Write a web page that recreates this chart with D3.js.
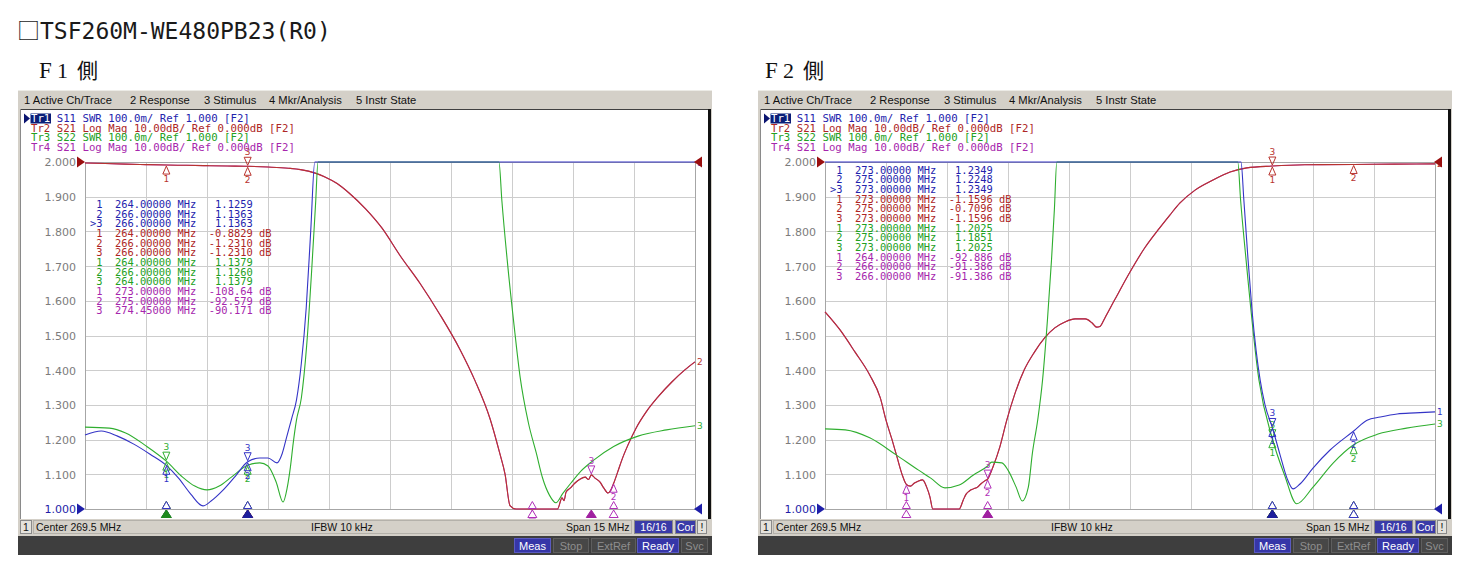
<!DOCTYPE html>
<html><head><meta charset="utf-8">
<script src="https://cdn.jsdelivr.net/npm/d3@7/dist/d3.min.js"></script>
<style>
html,body{margin:0;padding:0;background:#fff;}
svg{display:block;}
text{white-space:pre;}
</style></head>
<body>
<svg id="chart" width="1474" height="580"></svg>
<script>
// ================= DATA =================
const titleBox = "□";
const titleText = "TSF260M-WE480PB23(R0)";
const sideChar = "側";
const panelNames = ["F1", "F2"];
const menuItems = ["1 Active Ch/Trace", "2 Response", "3 Stimulus", "4 Mkr/Analysis", "5 Instr State"];
const legendRows = [
  "Tr1 S11 SWR 100.0m/ Ref 1.000 [F2]",
  "Tr2 S21 Log Mag 10.00dB/ Ref 0.000dB [F2]",
  "Tr3 S22 SWR 100.0m/ Ref 1.000 [F2]",
  "Tr4 S21 Log Mag 10.00dB/ Ref 0.000dB [F2]"
];
const swrTicks = [2.0, 1.9, 1.8, 1.7, 1.6, 1.5, 1.4, 1.3, 1.2, 1.1, 1.0];
const freqDomain = [262, 277];   // MHz (Center 269.5, Span 15)
const freqDiv = 1.5;             // MHz per division
const swrDomain = [1, 2];
const dbDomain = [-100, 0];
const statusTexts = ["1", "Center 269.5 MHz", "IFBW 10 kHz", "Span 15 MHz", "16/16", "Cor", "!"];
const buttonTexts = ["Meas", "Stop", "ExtRef", "Ready", "Svc"];

// ---- F1 side ----
const f1S11Freq = [262.0, 262.4, 262.8, 263.2, 263.6, 264.0, 264.3, 264.6, 264.9, 265.1, 265.4, 265.7, 266.0, 266.3, 266.5, 266.72, 266.85, 266.96, 267.08, 267.2, 267.32, 267.44, 267.55, 267.65, 269.0, 271.0, 273.0, 275.0, 277.0];
const f1S11Swr  = [1.213, 1.225, 1.210, 1.187, 1.158, 1.1259, 1.089, 1.043, 1.009, 1.023, 1.055, 1.095, 1.1363, 1.147, 1.147, 1.133, 1.160, 1.208, 1.260, 1.314, 1.420, 1.580, 1.800, 2.000, 2.000, 2.000, 2.000, 2.000, 2.000];

const f1S22Freq = [262.0, 262.6, 263.0, 263.5, 264.0, 264.4, 264.7, 265.0, 265.3, 265.6, 266.0, 266.3, 266.5, 266.7, 266.87, 266.97, 267.05, 267.12, 267.2, 267.32, 267.45, 267.57, 267.67, 267.73, 270.0, 272.18, 272.25, 272.38, 272.55, 272.7, 272.9, 273.1, 273.25, 273.42, 273.58, 273.75, 273.95, 274.2, 274.5, 275.0, 275.6, 276.3, 277.0];
const f1S22Swr  = [1.236, 1.233, 1.219, 1.182, 1.1379, 1.092, 1.066, 1.055, 1.066, 1.092, 1.126, 1.133, 1.124, 1.078, 1.020, 1.060, 1.120, 1.190, 1.256, 1.320, 1.470, 1.680, 1.880, 2.000, 2.000, 2.000, 1.890, 1.720, 1.530, 1.380, 1.250, 1.160, 1.090, 1.040, 1.018, 1.045, 1.075, 1.110, 1.140, 1.180, 1.210, 1.228, 1.240];

const f1S21Freq = [262.0, 262.5, 263.0, 263.5, 264.0, 264.5, 265.0, 265.5, 266.0, 266.5, 267.0, 267.3, 267.66, 267.9, 268.2, 268.5, 268.9, 269.3, 269.75, 270.24, 270.73, 271.22, 271.59, 271.96, 272.2, 272.33, 272.45, 272.6, 273.0, 273.3, 273.62, 273.73, 273.78, 273.83, 273.93, 274.05, 274.17, 274.3, 274.38, 274.45, 274.54, 274.66, 274.76, 274.86, 274.93, 275.0, 275.1, 275.2, 275.35, 275.55, 275.8, 276.09, 276.43, 276.75, 277.0];
const f1S21Db   = [-0.30, -0.45, -0.60, -0.75, -0.8829, -0.95, -1.05, -1.15, -1.2310, -1.45, -1.80, -2.20, -3.20, -4.30, -6.20, -9.0, -13.5, -19.0, -27.0, -35.0, -44.0, -54.0, -63.0, -74.0, -84.0, -90.0, -99.0, -105.0, -108.64, -110.0, -104.0, -96.8, -97.6, -95.1, -94.0, -92.5, -91.4, -90.8, -91.5, -90.171, -91.1, -92.2, -94.0, -95.4, -94.5, -92.579, -89.3, -85.9, -81.6, -76.7, -72.0, -67.7, -63.4, -59.9, -57.6];

// markers [freq MHz, value]
const mkF1S11 = [[264, 1.1259], [266, 1.1363], [266, 1.1363]];
const mkF1S21 = [[264, -0.8829], [266, -1.2310], [266, -1.2310]];
const mkF1S22 = [[264, 1.1379], [266, 1.1260], [264, 1.1379]];
const mkF1Tr4 = [[273, -108.64], [275, -92.579], [274.45, -90.171]];

// ---- F2 side ----
const f2S11Freq = [262.0, 264.0, 266.0, 268.0, 270.0, 272.23, 272.3, 272.4, 272.5, 272.6, 272.7, 272.82, 273.0, 273.19, 273.36, 273.51, 273.68, 274.0, 274.42, 275.0, 275.33, 275.65, 276.07, 276.51, 277.0];
const f2S11Swr  = [2.000, 2.000, 2.000, 2.000, 2.000, 2.000, 1.890, 1.723, 1.573, 1.458, 1.372, 1.300, 1.2349, 1.156, 1.089, 1.058, 1.072, 1.118, 1.170, 1.2248, 1.256, 1.265, 1.274, 1.277, 1.280];

const f2S22Freq = [262.0, 262.5, 263.1, 263.75, 264.3, 264.6, 264.95, 265.3, 265.65, 266.0, 266.1, 266.35, 266.5, 266.7, 266.85, 267.0, 267.1, 267.23, 267.35, 267.47, 267.57, 267.64, 267.7, 270.0, 272.15, 272.22, 272.35, 272.67, 273.0, 273.3, 273.6, 274.0, 274.5, 275.0, 275.6, 276.3, 277.0];
const f2S22Swr  = [1.231, 1.228, 1.205, 1.156, 1.112, 1.089, 1.061, 1.069, 1.098, 1.124, 1.135, 1.133, 1.112, 1.063, 1.023, 1.063, 1.161, 1.256, 1.372, 1.545, 1.718, 1.862, 2.000, 2.000, 2.000, 1.890, 1.723, 1.372, 1.2025, 1.098, 1.015, 1.063, 1.133, 1.1851, 1.216, 1.233, 1.245];

const f2S21Freq = [262.0, 262.37, 262.74, 263.1, 263.36, 263.5, 263.65, 263.77, 263.9, 264.0, 264.1, 264.2, 264.3, 264.4, 264.5, 264.58, 264.65, 264.8, 265.0, 265.2, 265.3, 265.4, 265.47, 265.55, 265.65, 265.75, 265.83, 265.93, 266.0, 266.13, 266.3, 266.47, 266.66, 266.9, 267.15, 267.4, 267.65, 267.9, 268.15, 268.4, 268.57, 268.68, 268.76, 268.88, 269.12, 269.5, 269.86, 270.23, 270.48, 270.73, 271.1, 271.54, 271.96, 272.37, 273.0, 273.8, 275.0, 276.0, 277.0];
const f2S21Db   = [-43.2, -48.4, -54.8, -61.4, -68.0, -74.4, -80.1, -85.0, -90.2, -92.886, -93.4, -92.5, -91.9, -91.6, -93.7, -96.5, -101.0, -108.0, -110.0, -109.0, -103.0, -97.4, -95.7, -94.8, -94.2, -93.7, -92.8, -91.9, -91.386, -87.9, -82.1, -74.4, -67.1, -59.9, -54.8, -50.7, -47.8, -46.1, -45.2, -45.2, -46.4, -47.6, -47.4, -45.0, -39.8, -31.7, -24.8, -19.0, -15.3, -11.8, -8.1, -5.2, -2.9, -1.7, -1.1596, -0.80, -0.7096, -0.60, -0.55];

const mkF2S11 = [[273, 1.2349], [275, 1.2248], [273, 1.2349]];
const mkF2S21 = [[273, -1.1596], [275, -0.7096], [273, -1.1596]];
const mkF2S22 = [[273, 1.2025], [275, 1.1851], [273, 1.2025]];
const mkF2Tr4 = [[264, -92.886], [266, -91.386], [266, -91.386]];

// ================= STYLE / LAYOUT =================
const COL = {blue: "#3434c6", red: "#b8332e", green: "#2fae2f", mag: "#b030b8"};
const TXT = {blue: "#2323ad", red: "#ae2626", green: "#22a022", mag: "#a626ad"};
const DARK = {blue: "#1e1e9c", red: "#961c1c", green: "#1d8a1d", mag: "#a020a0"};
const MONO = "DejaVu Sans Mono";
const SANS = "Liberation Sans";

const svg = d3.select("#chart");

// main title
const tt = svg.append("text").attr("y", 39).attr("fill", "#1a1a1a");
tt.append("tspan").attr("x", 17).attr("font-family", "Noto Sans CJK JP").attr("font-size", 23).text(titleBox);
tt.append("tspan").attr("x", 40).attr("font-family", MONO).attr("font-size", 23).text(titleText);

function fmtVal(v) {
  const a = Math.abs(v);
  const d = a < 1 ? 1 : Math.floor(Math.log10(a)) + 1;
  return v.toFixed(5 - d);
}
function tri(xc, yTip, dir, w, h) {
  return `M${xc},${yTip}L${xc - w / 2},${yTip + dir * h}L${xc + w / 2},${yTip + dir * h}Z`;
}

function drawPanel(ox, name, nameX, readY, s11, s21, s22, mk11, mk21, mk22, mk4) {
  const g = svg.append("g");
  const L = 85 + ox, R = 695 + ox, T = 162, B = 509;
  const x = d3.scaleLinear().domain(freqDomain).range([L, R]);
  const ySwr = d3.scaleLinear().domain(swrDomain).range([B, T]).clamp(true);
  const yDb = d3.scaleLinear().domain(dbDomain).range([B, T]).clamp(true);

  // panel heading  (F1 側)
  const ht = g.append("text").attr("y", 78).attr("fill", "#111");
  ht.append("tspan").attr("x", nameX).attr("font-family", "Liberation Serif").attr("font-size", 23).text(name[0]);
  ht.append("tspan").attr("x", nameX + 18).attr("font-family", "Liberation Serif").attr("font-size", 22).text(name[1]);
  ht.append("tspan").attr("x", nameX + 38).attr("font-family", "Noto Sans CJK JP").attr("font-size", 21).text(sideChar);

  // frame
  g.append("rect").attr("x", 18 + ox).attr("y", 90).attr("width", 694).attr("height", 465).attr("fill", "#d4d0c8");
  g.append("line").attr("x1", 18 + ox).attr("x2", 712 + ox).attr("y1", 90.5).attr("y2", 90.5).attr("stroke", "#ecebe6");
  // menu
  const menuX = [24, 130, 204, 269, 356];
  menuItems.forEach((t, i) => {
    g.append("text").attr("x", menuX[i] + ox).attr("y", 103.5).attr("font-family", SANS)
      .attr("font-size", 11.2).attr("fill", "#111").text(t);
  });
  // chart window
  g.append("rect").attr("x", 20 + ox).attr("y", 109).attr("width", 689).attr("height", 410).attr("fill", "#fff");
  g.append("line").attr("x1", 20 + ox).attr("x2", 711 + ox).attr("y1", 109.5).attr("y2", 109.5).attr("stroke", "#404040");
  g.append("line").attr("x1", 20.5 + ox).attr("x2", 20.5 + ox).attr("y1", 109).attr("y2", 519).attr("stroke", "#8a8a8a");
  g.append("rect").attr("x", 708 + ox).attr("y", 109).attr("width", 3).attr("height", 410).attr("fill", "#111");

  // grid
  const xGrid = d3.range(freqDomain[0], freqDomain[1] + 0.001, freqDiv);
  g.append("g").selectAll("line").data(xGrid).join("line")
    .attr("x1", d => Math.round(x(d)) + 0.5).attr("x2", d => Math.round(x(d)) + 0.5)
    .attr("y1", T).attr("y2", B).attr("stroke", "#cdcdcd");
  g.append("g").selectAll("line").data(swrTicks).join("line")
    .attr("y1", d => Math.round(ySwr(d)) + 0.5).attr("y2", d => Math.round(ySwr(d)) + 0.5)
    .attr("x1", L).attr("x2", R).attr("stroke", "#cdcdcd");
  g.append("rect").attr("x", L + 0.5).attr("y", T + 0.5).attr("width", R - L).attr("height", B - T)
    .attr("fill", "none").attr("stroke", "#a6a6a6");

  // y axis labels
  const ax = d3.axisLeft(ySwr).tickValues(swrTicks).tickSize(0).tickPadding(0).tickFormat(d3.format(".3f"));
  const axg = g.append("g").attr("transform", `translate(${76 + ox},0)`).call(ax);
  axg.select(".domain").remove();
  axg.attr("font-family", "DejaVu Sans").attr("font-size", 11);
  axg.selectAll("text").attr("fill", d => d === 1 ? "#1e1ea8" : "#7c7c7c").attr("dy", "0.36em");

  // traces
  const traces = [
    {num: 4, f: s21[0], v: s21[1], y: yDb, c: "mag", mk: mk4, unit: "dB", label: false, active: false},
    {num: 2, f: s21[0], v: s21[1], y: yDb, c: "red", mk: mk21, unit: "dB", label: true, active: false},
    {num: 3, f: s22[0], v: s22[1], y: ySwr, c: "green", mk: mk22, unit: "", label: true, active: false},
    {num: 1, f: s11[0], v: s11[1], y: ySwr, c: "blue", mk: mk11, unit: "", label: true, active: true}
  ];
  traces.forEach(tr => {
    const line = d3.line().x(d => x(d[0])).y(d => tr.y(d[1])).curve(d3.curveMonotoneX);
    g.append("path").datum(d3.zip(tr.f, tr.v)).attr("d", line)
      .attr("fill", "none").attr("stroke", COL[tr.c]).attr("stroke-width", 1.1);
  });

  // trace end labels
  traces.filter(t => t.label).forEach(tr => {
    const last = tr.v[tr.v.length - 1];
    g.append("text").attr("x", R + 2).attr("y", tr.y(last) + 3.5).attr("font-family", "DejaVu Sans")
      .attr("font-size", 9).attr("fill", COL[tr.c]).text(tr.num);
  });

  // reference arrows
  g.append("path").attr("d", `M${L},${T}L${L - 8},${T - 5.5}L${L - 8},${T + 5.5}Z`).attr("fill", "#9a0f0f");
  g.append("path").attr("d", `M${L},${B}L${L - 8},${B - 5.5}L${L - 8},${B + 5.5}Z`).attr("fill", "#1e1ea8");
  g.append("path").attr("d", `M${R - 1},${T}L${R + 7},${T - 5.5}L${R + 7},${T + 5.5}Z`).attr("fill", "#9a0f0f");
  g.append("path").attr("d", `M${R - 1},${B}L${R + 7},${B - 5.5}L${R + 7},${B + 5.5}Z`).attr("fill", "#1e1ea8");

  // marker readout table
  const readOrder = [traces[3], traces[1], traces[2], traces[0]];
  let row = 0;
  readOrder.forEach(tr => {
    tr.mk.forEach((m, i) => {
      const n = i + 1;
      const s = (n === 3 && tr.active ? ">" : " ") + n + "  " + m[0].toFixed(5) + " MHz  " + (m[1] < 0 ? "" : " ") +
        fmtVal(m[1]) + (tr.unit ? " " + tr.unit : "");
      g.append("text").attr("xml:space", "preserve").attr("x", 90 + ox).attr("y", readY + row * 9.67)
        .attr("font-family", MONO).attr("font-size", 10.4).attr("fill", TXT[tr.c]).text(s);
      row++;
    });
  });

  // markers on traces
  traces.forEach(tr => {
    tr.mk.forEach((m, i) => {
      const n = i + 1;
      const px = x(m[0]), py = Math.min(tr.y(m[1]), B);
      if (n === 3) {
        g.append("path").attr("d", tri(px, py - 1, -1, 7, 8)).attr("fill", "none").attr("stroke", COL[tr.c]);
        g.append("text").attr("x", px).attr("y", py - 11).attr("text-anchor", "middle").attr("font-family", "DejaVu Sans")
          .attr("font-size", 9).attr("fill", COL[tr.c]).text(n);
      } else {
        g.append("path").attr("d", tri(px, py + 1, 1, 7, 8)).attr("fill", "none").attr("stroke", COL[tr.c]);
        g.append("text").attr("x", px).attr("y", py + 17).attr("text-anchor", "middle").attr("font-family", "DejaVu Sans")
          .attr("font-size", 9).attr("fill", COL[tr.c]).text(n);
      }
    });
  });
  // stimulus indicators along the bottom edge
  traces.forEach(tr => {
    tr.mk.forEach((m, i) => {
      if (i === 2) return;
      const px = x(m[0]);
      g.append("path").attr("d", tri(px, 501.5, 1, 8, 7)).attr("fill", "#fff").attr("stroke", COL[tr.c]);
      g.append("path").attr("d", tri(px, 510, 1, 9, 7.5)).attr("fill", "#fff").attr("stroke", COL[tr.c]);
    });
  });
  traces.forEach(tr => {
    const m = tr.mk[2];
    const px = x(m[0]);
    g.append("path").attr("d", tri(px, 510, 1, 10, 7.5)).attr("fill", DARK[tr.c]).attr("stroke", DARK[tr.c]);
  });

  // Tr legend
  const legCols = ["blue", "red", "green", "mag"];
  g.append("path").attr("d", `M${24 + ox},${113.5}L${30 + ox},${118.5}L${24 + ox},${123.5}Z`).attr("fill", "#0a1470");
  g.append("rect").attr("x", 30.5 + ox).attr("y", 113.5).attr("width", 20.5).attr("height", 10).attr("fill", "#0a1e78");
  legendRows.forEach((t, i) => {
    const te = g.append("text").attr("xml:space", "preserve").attr("x", 31 + ox).attr("y", 122.2 + i * 9.5)
      .attr("font-family", MONO).attr("font-size", 10.7).attr("fill", TXT[legCols[i]]);
    if (i === 0) {
      te.append("tspan").attr("fill", "#fff").text(t.slice(0, 3));
      te.append("tspan").text(t.slice(3));
    } else te.text(t);
  });

  // status row
  g.append("rect").attr("x", 18 + ox).attr("y", 519).attr("width", 694).attr("height", 16).attr("fill", "#d4d0c8");
  g.append("rect").attr("x", 20.5 + ox).attr("y", 520.5).attr("width", 11).attr("height", 13).attr("fill", "#e4e2dc").attr("stroke", "#8a8a8a");
  g.append("rect").attr("x", 33.5 + ox).attr("y", 520.5).attr("width", 598).attr("height", 13).attr("fill", "none").attr("stroke", "#b4b1aa");
  const stY = 531;
  g.append("text").attr("x", 26 + ox).attr("y", stY).attr("text-anchor", "middle").attr("font-family", SANS).attr("font-size", 10.5).attr("fill", "#111").text(statusTexts[0]);
  g.append("text").attr("x", 36 + ox).attr("y", stY).attr("font-family", SANS).attr("font-size", 10.5).attr("fill", "#111").text(statusTexts[1]);
  g.append("text").attr("x", 311 + ox).attr("y", stY).attr("font-family", SANS).attr("font-size", 10.5).attr("fill", "#111").text(statusTexts[2]);
  g.append("text").attr("x", 566 + ox).attr("y", stY).attr("font-family", SANS).attr("font-size", 10.5).attr("fill", "#111").text(statusTexts[3]);
  const boxes = [[634, 672, "#3a3aa8", "#fff", 4], [675, 695, "#3a3aa8", "#fff", 5], [697, 706, "#e4e2dc", "#111", 6]];
  boxes.forEach(b => {
    g.append("rect").attr("x", b[0] + ox + 0.5).attr("y", 520.5).attr("width", b[1] - b[0]).attr("height", 13)
      .attr("fill", b[2]).attr("stroke", "#8a8a8a");
    g.append("text").attr("x", (b[0] + b[1]) / 2 + ox + 0.5).attr("y", stY).attr("text-anchor", "middle")
      .attr("font-family", SANS).attr("font-size", 10.5).attr("fill", b[3]).text(statusTexts[b[4]]);
  });

  // dark button bar
  g.append("rect").attr("x", 18 + ox).attr("y", 536).attr("width", 694).attr("height", 19).attr("fill", "#3e3e3e");
  const btn = [[514, 550, true], [553, 588, false], [591, 635, false], [637, 678, true], [681, 707, false]];
  btn.forEach((b, i) => {
    g.append("rect").attr("x", b[0] + ox + 0.5).attr("y", 538.5).attr("width", b[1] - b[0]).attr("height", 14)
      .attr("fill", b[2] ? "#3636a8" : "#474747").attr("stroke", b[2] ? "#5a5ac0" : "#5e5e5e");
    g.append("text").attr("x", (b[0] + b[1]) / 2 + ox + 0.5).attr("y", 549.5).attr("text-anchor", "middle")
      .attr("font-family", SANS).attr("font-size", 11).attr("fill", b[2] ? "#fff" : "#8e8e8e").text(buttonTexts[i]);
  });
}

drawPanel(0, panelNames[0], 39, 208.0,
  [f1S11Freq, f1S11Swr], [f1S21Freq, f1S21Db], [f1S22Freq, f1S22Swr],
  mkF1S11, mkF1S21, mkF1S22, mkF1Tr4);
drawPanel(740, panelNames[1], 765, 173.7,
  [f2S11Freq, f2S11Swr], [f2S21Freq, f2S21Db], [f2S22Freq, f2S22Swr],
  mkF2S11, mkF2S21, mkF2S22, mkF2Tr4);
</script>
</body></html>
